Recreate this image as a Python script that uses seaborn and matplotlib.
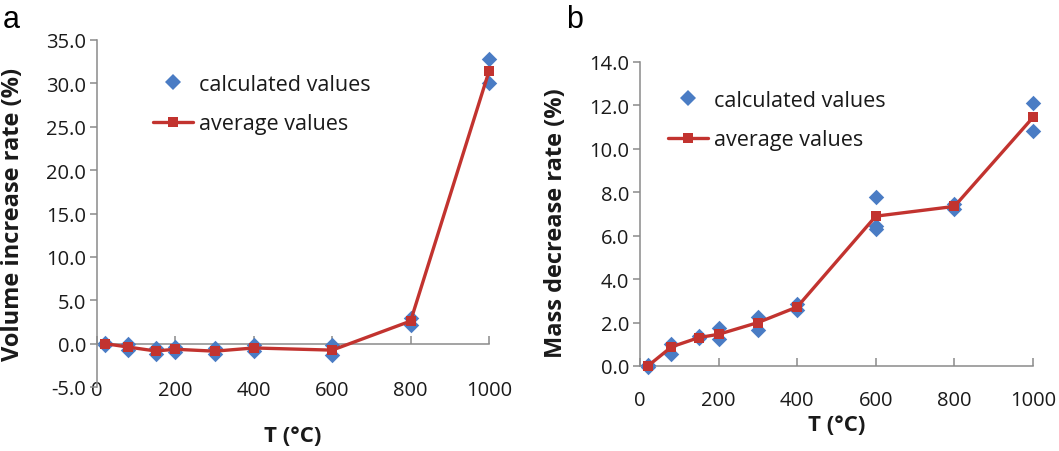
import matplotlib
matplotlib.use("Agg")
import matplotlib.pyplot as plt
from matplotlib.lines import Line2D
import seaborn as sns
import pandas as pd

# Heating temperatures (°C)
temps = [20, 80, 150, 200, 300, 400, 600, 800, 1000]

# (a) volume increase rate (%): individual calculated values and their averages
vol_calc_T = [20, 20, 80, 80, 150, 150, 200, 200, 300, 300,
              400, 400, 600, 600, 800, 800, 1000, 1000]
vol_calc = [0.1, -0.2, -0.1, -0.7, -0.5, -1.2, -0.4, -0.95, -0.55, -1.2,
            -0.2, -0.8, -0.2, -1.3, 3.0, 2.2, 32.8, 30.0]
vol_avg = [0.0, -0.4, -0.85, -0.65, -0.87, -0.5, -0.75, 2.6, 31.4]

# (b) mass decrease rate (%): individual calculated values and their averages
mass_calc_T = [20, 20, 80, 80, 150, 150, 200, 200, 300, 300,
               400, 400, 600, 600, 600, 800, 800, 1000, 1000]
mass_calc = [0.05, -0.05, 1.0, 0.55, 1.38, 1.28, 1.74, 1.23, 2.26, 1.65,
             2.85, 2.6, 7.8, 6.45, 6.3, 7.45, 7.25, 12.1, 10.8]
mass_avg = [0.0, 0.88, 1.31, 1.46, 2.0, 2.72, 6.9, 7.35, 11.45]

x_ticks = [0, 200, 400, 600, 800, 1000]
vol_ticks = [-5, 0, 5, 10, 15, 20, 25, 30, 35]
mass_ticks = [0, 2, 4, 6, 8, 10, 12, 14]

BLUE = "#4a7cc4"
RED = "#c2332f"
SPINE = "#8a8a8a"
TEXT = "#1a1a1a"

sns.set_theme(style="white")
plt.rcParams["font.family"] = ["Open Sans", "DejaVu Sans"]
plt.rcParams["text.color"] = TEXT
plt.rcParams["axes.labelcolor"] = TEXT
plt.rcParams["xtick.color"] = TEXT
plt.rcParams["ytick.color"] = TEXT

W, H = 1059, 452
fig = plt.figure(figsize=(W / 100, H / 100), dpi=100)


def px_axes(x0, x1, ytop, ybot):
    return fig.add_axes([x0 / W, (H - ybot) / H, (x1 - x0) / W, (ybot - ytop) / H])


axA = px_axes(97, 489, 41, 388)
axB = px_axes(640, 1033, 63, 367)

df_a_calc = pd.DataFrame({"T": vol_calc_T, "v": vol_calc})
df_a_avg = pd.DataFrame({"T": temps, "v": vol_avg})
df_b_calc = pd.DataFrame({"T": mass_calc_T, "v": mass_calc})
df_b_avg = pd.DataFrame({"T": temps, "v": mass_avg})

TICK_FS = 14.5
LABEL_FS = 17
LEG_FS = 15.5


def draw(ax, calc, avg):
    sns.scatterplot(data=calc, x="T", y="v", ax=ax, marker="D", s=62,
                    color=BLUE, linewidth=0, zorder=3, clip_on=False, legend=False)
    sns.lineplot(data=avg, x="T", y="v", ax=ax, color=RED, lw=2.4,
                 marker="s", markersize=7.5, markeredgewidth=0,
                 zorder=4, clip_on=False, legend=False)
    ax.set_xlim(0, 1000)
    ax.set_xticks(x_ticks)
    for s in ("top", "right"):
        ax.spines[s].set_visible(False)
    for s in ("left", "bottom"):
        ax.spines[s].set_color(SPINE)
        ax.spines[s].set_linewidth(1.1)
    ax.tick_params(axis="y", left=True, direction="out", length=5, width=1.1,
                   color=SPINE, labelcolor=TEXT, labelsize=TICK_FS, pad=3)
    ax.tick_params(axis="x", bottom=True, direction="in", length=6, width=1.1,
                   color=SPINE, labelcolor=TEXT, labelsize=TICK_FS)
    handles = [
        Line2D([], [], ls="none", marker="D", ms=8, color=BLUE, mew=0),
        Line2D([], [], color=RED, lw=2.4, marker="s", ms=7.5, mew=0),
    ]
    return handles


def add_legend(ax, handles, x_px, y_px):
    ax.legend(handles, ["calculated values", "average values"],
              loc="upper left", bbox_to_anchor=(x_px / W, (H - y_px) / H),
              bbox_transform=fig.transFigure, frameon=False, fontsize=LEG_FS,
              handlelength=1.85, handletextpad=0.3, labelspacing=0.85,
              borderpad=0, borderaxespad=0)


# Panel (a): the x axis line crosses at y = 0, labels sit below the plot
hA = draw(axA, df_a_calc, df_a_avg)
axA.set_ylim(-5, 35)
axA.set_yticks(vol_ticks)
axA.set_yticklabels([f"{v:.1f}" for v in vol_ticks])
axA.spines["bottom"].set_position(("data", 0))
axA.tick_params(axis="x", labelbottom=False)
secA = axA.secondary_xaxis("bottom")
secA.set_xticks(x_ticks)
secA.spines["bottom"].set_visible(False)
secA.tick_params(axis="x", bottom=True, length=0, labelsize=TICK_FS, pad=-5,
                 labelcolor=TEXT)
axA.set_ylabel("Volume increase rate (%)", fontsize=LABEL_FS, fontweight="bold")
axA.yaxis.set_label_coords((25 - 97) / 392, 0.5)
axA.set_xlabel("T (°C)", fontsize=16, fontweight="bold")
axA.xaxis.set_label_coords(0.5, -(426 - 388) / 347)
add_legend(axA, hA, 153, 75)

# Panel (b)
hB = draw(axB, df_b_calc, df_b_avg)
axB.set_ylim(0, 14)
axB.set_yticks(mass_ticks)
axB.set_yticklabels([f"{v:.1f}" for v in mass_ticks])
axB.tick_params(axis="x", pad=17)
axB.set_ylabel("Mass decrease rate (%)", fontsize=LABEL_FS, fontweight="bold")
axB.yaxis.set_label_coords((568 - 640) / 393, 0.474)
axB.set_xlabel("T (°C)", fontsize=16, fontweight="bold")
axB.xaxis.set_label_coords(0.5, -(415 - 367) / 304)
add_legend(axB, hB, 668, 91)

# Panel letters
fig.text(3 / W, 1 - 5 / H, "a", fontsize=22, va="top", ha="left",
         family=["Liberation Sans", "DejaVu Sans"], color="black")
fig.text(566 / W, 1 - 5 / H, "b", fontsize=22, va="top", ha="left",
         family=["Liberation Sans", "DejaVu Sans"], color="black")

fig.savefig("out.png", dpi=100, facecolor="white")
